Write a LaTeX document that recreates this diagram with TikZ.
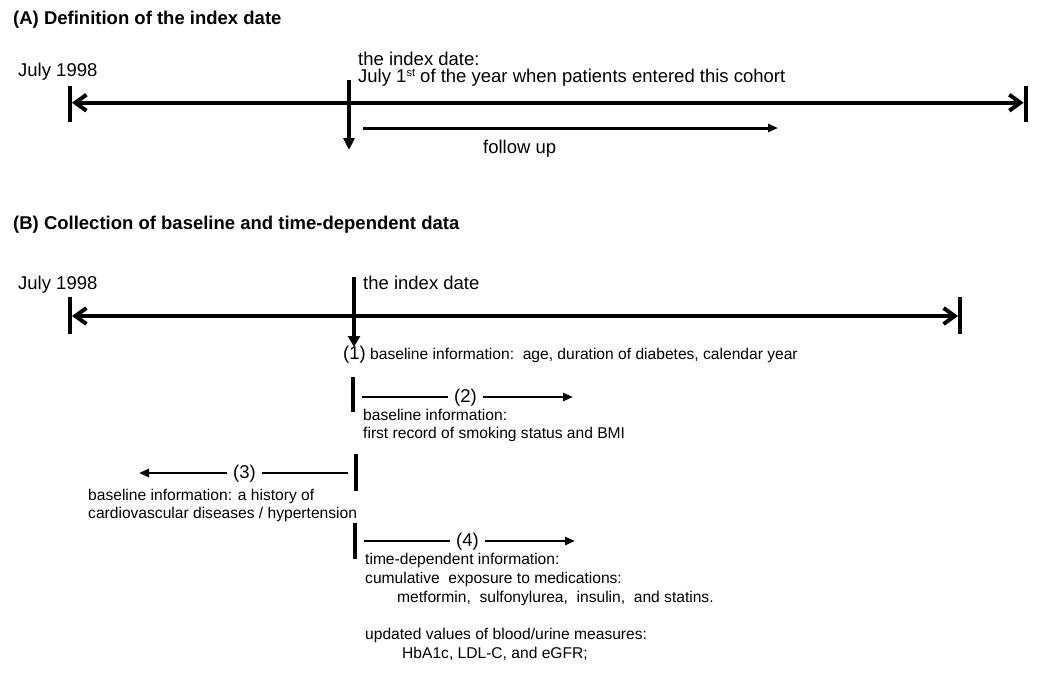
\documentclass[tikz,border=0pt]{standalone}
\usepackage{fontspec}
\setmainfont{Liberation Sans}
\usetikzlibrary{arrows.meta}
\begin{document}
\begin{tikzpicture}[x=1pt,y=-1pt,
  big/.style={font=\fontsize{18.5}{20}\selectfont, inner sep=0pt, anchor=base west},
  bigb/.style={font=\fontsize{18.5}{20}\selectfont\bfseries, inner sep=0pt, anchor=base west},
  small/.style={font=\fontsize{15.6}{18}\selectfont, inner sep=0pt, anchor=base west},
  num/.style={font=\fontsize{18.5}{20}\selectfont, inner ysep=0pt, inner xsep=6pt, anchor=base},
  tickmark/.style={line width=4pt},
  timeline/.style={line width=4pt, {Straight Barb[length=11pt,width=16pt]}-{Straight Barb[length=11pt,width=16pt]}},
  bigarrow/.style={line width=4pt, -{Triangle[length=11pt,width=12pt]}},
  midarrow/.style={line width=3pt, -{Triangle[length=10pt,width=8pt]}},
  smallline/.style={line width=2.7pt},
  smallarrow/.style={line width=2.7pt, -{Triangle[length=10pt,width=8pt]}}
]
\useasboundingbox (0,0) rectangle (1044,673);

% ---------- (A) ----------
\node[bigb] (titleA) at (13,24.5) {(A) Definition of the index date};
\node[big] (julyA) at (18,76.5) {July 1998};
\node[big] (idxA1) at (358,65) {the index date:};
\node[big] (idxA2) at (358,82) {July 1\raisebox{5.5pt}{\fontsize{11}{11}\selectfont st} of the year when patients entered this cohort};

\coordinate (AtickL1) at (70,86);   \coordinate (AtickL2) at (70,122);
\coordinate (AtickR1) at (1025.7,86); \coordinate (AtickR2) at (1025.7,122);
\draw[tickmark] (AtickL1) -- (AtickL2);
\draw[tickmark] (AtickR1) -- (AtickR2);
\coordinate (AL) at (72,102.7);
\coordinate (AR) at (1023.7,102.7);
\draw[timeline] (AL) -- (AR);

\coordinate (Atop) at (349,80);
\coordinate (Abot) at (349,150);
\draw[line width=3.5pt, -{Triangle[length=12pt,width=11pt]}] (Atop) -- (Abot);

\coordinate (F1) at (363,128);
\coordinate (F2) at (778,128);
\draw[midarrow] (F1) -- (F2);
\node[big] (follow) at (483,153) {follow up};

% ---------- (B) ----------
\node[bigb] (titleB) at (13,229.5) {(B) Collection of baseline and time-dependent data};
\node[big] (julyB) at (18,289) {July 1998};
\node[big] (idxB) at (363,289) {the index date};

\coordinate (BtickL1) at (70,297);  \coordinate (BtickL2) at (70,334);
\coordinate (BtickR1) at (960,297); \coordinate (BtickR2) at (960,334);
\draw[tickmark] (BtickL1) -- (BtickL2);
\draw[tickmark] (BtickR1) -- (BtickR2);
\coordinate (BL) at (72,316);
\coordinate (BR) at (958,316);
\draw[timeline] (BL) -- (BR);

\coordinate (Btop) at (354,277);
\coordinate (Bbot) at (354,347);
\draw[bigarrow] (Btop) -- (Bbot);

% (1)
\node[big] (n1) at (343,359) {(1)};
\node[small] (t1) at (370,359) {baseline information:\ \ age, duration of diabetes, calendar year};

% (2)
\coordinate (T2a) at (353,377); \coordinate (T2b) at (353,412);
\draw[tickmark] (T2a) -- (T2b);
\coordinate (S2) at (362,397);
\coordinate (E2) at (573,397);
\node[num] (n2) at (465.5,402) {(2)};
\draw[smallline] (S2) -- (S2 -| n2.west);
\draw[smallarrow] (S2 -| n2.east) -- (E2);
\node[small] (t2a) at (363,420) {baseline information:};
\node[small] (t2b) at (363,438.5) {first record of smoking status and BMI};

% (3)
\coordinate (T3a) at (356,454); \coordinate (T3b) at (356,491);
\draw[tickmark] (T3a) -- (T3b);
\coordinate (S3) at (348,473);
\coordinate (E3) at (139,473);
\node[num] (n3) at (244.5,478) {(3)};
\draw[smallline] (S3) -- (S3 -| n3.east);
\draw[smallarrow] (S3 -| n3.west) -- (E3);
\node[small] (t3a) at (88,500) {baseline information: a history of};
\node[small] (t3b) at (88,518.5) {cardiovascular diseases / hypertension};

% (4)
\coordinate (T4a) at (355,523); \coordinate (T4b) at (355,559);
\draw[tickmark] (T4a) -- (T4b);
\coordinate (S4) at (364,541);
\coordinate (E4) at (575,541);
\node[num] (n4) at (467.5,546) {(4)};
\draw[smallline] (S4) -- (S4 -| n4.west);
\draw[smallarrow] (S4 -| n4.east) -- (E4);
\node[small] (t4a) at (365,564) {time-dependent information:};
\node[small] (t4b) at (365,583) {cumulative\ \ exposure to medications:};
\node[small] (t4c) at (397,602) {metformin,\ \ sulfonylurea,\ \ insulin,\ \ and statins.};
\node[small] (t4d) at (365,639.5) {updated values of blood/urine measures:};
\node[small] (t4e) at (402,658) {HbA1c, LDL-C, and eGFR;};
\end{tikzpicture}
\end{document}
